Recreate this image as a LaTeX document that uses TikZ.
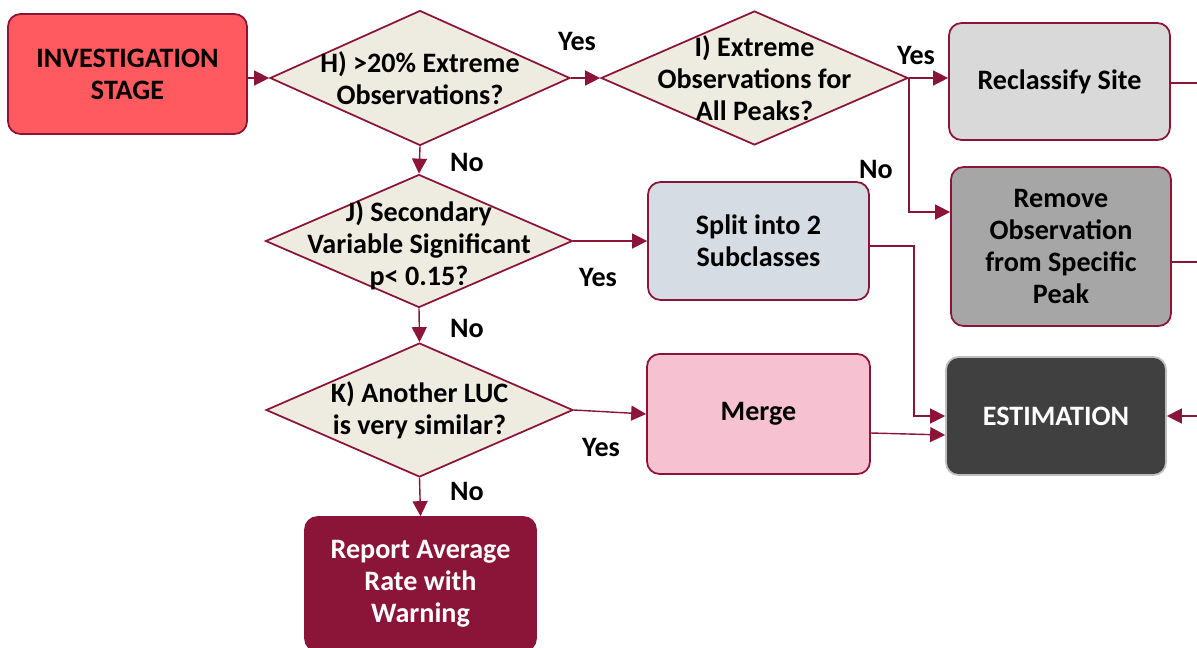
\documentclass[tikz,border=0pt]{standalone}
\usepackage{fontspec}
\setmainfont{Carlito}
\usepackage{xcolor}
\usetikzlibrary{arrows.meta, positioning, shapes.geometric}

\definecolor{wine}{HTML}{8B1538}
\definecolor{stagered}{HTML}{FF5A5F}
\definecolor{beige}{HTML}{EEECE1}
\definecolor{lightgrey}{HTML}{D9D9D9}
\definecolor{midgrey}{HTML}{A6A6A6}
\definecolor{bluegrey}{HTML}{D6DCE4}
\definecolor{pinkish}{HTML}{F6C1D0}
\definecolor{darkgrey}{HTML}{404040}
\definecolor{edgegrey}{HTML}{BFBFBF}

\begin{document}
\begin{tikzpicture}[
      x=0.02cm, y=-0.02cm,
      every node/.style={font=\fontsize{16}{18.2}\selectfont\bfseries},
      procbox/.style={rectangle, rounded corners=0.25cm, draw=wine, line width=1pt, align=center, inner sep=0pt},
      decision/.style={diamond, draw=wine, fill=beige, line width=1pt, inner sep=0pt},
      flow/.style={-{Triangle[length=0.3cm, width=0.3cm]}, draw=wine, line width=0.8pt},
      rim/.style={draw=wine, line width=0.8pt}
    ]
      \useasboundingbox (0,0) rectangle (1197,647);

      % boxes
      \node[procbox, fill=stagered, minimum width=4.78cm, minimum height=2.4cm] (stage) at (127.5,74) {INVESTIGATION\\STAGE};
      \node[procbox, fill=lightgrey, minimum width=4.42cm, minimum height=2.34cm] (reclass) at (1059.5,81.5) {Reclassify Site};
      \node[procbox, fill=midgrey, minimum width=4.4cm, minimum height=3.18cm] (remove) at (1061,246.5) {Remove\\Observation\\from Specific\\Peak};
      \node[procbox, fill=bluegrey, minimum width=4.42cm, minimum height=2.36cm] (split) at (758.5,241) {Split into 2\\Subclasses};
      \node[procbox, fill=pinkish, minimum width=4.46cm, minimum height=2.4cm] (merge) at (758.5,414) {Merge};
      \node[procbox, draw=edgegrey, fill=darkgrey, text=white, minimum width=4.4cm, minimum height=2.36cm] (estim) at (1056,416) {ESTIMATION};
      \node[procbox, fill=wine, text=white, minimum width=4.62cm, minimum height=2.68cm] (report) at (420.5,584) {Report Average\\Rate with\\Warning};

      % decisions
      \node[decision, minimum width=6cm, minimum height=2.7cm, label={[align=center]center:H) >20\% Extreme\\Observations?}] (h) at (420,78) {};
      \node[decision, minimum width=6.14cm, minimum height=2.68cm, label={[align=center]center:I) Extreme\\Observations for\\All Peaks?}] (i) at (754.5,78) {};
      \node[decision, minimum width=6.14cm, minimum height=2.66cm, label={[align=center, yshift=-0.08cm]center:J) Secondary\\Variable Significant\\p< 0.15?}] (j) at (419,241) {};
      \node[decision, minimum width=6.14cm, minimum height=2.68cm, label={[align=center]center:K) Another LUC\\is very similar?}] (k) at (419.5,410) {};

      % answers
      \node (yesh) at (577,41) {Yes};
      \node (noh) at (467,162) {No};
      \node (yesi) at (916,55) {Yes};
      \node (noi) at (876,169) {No};
      \node (yesj) at (598,277) {Yes};
      \node (noj) at (467,328) {No};
      \node (yesk) at (601,447) {Yes};
      \node (nok) at (467,491) {No};

      % free ends at the right border
      \coordinate (rimtop) at (1197,83);
      \coordinate (rimmid) at (1197,262);
      \coordinate (rimlow) at (1197,416);

      \draw[flow] (stage.east |- h.west) -- (h.west);
      \draw[flow] (h.east) -- (i.west);
      \draw[flow] (i.east) -- (reclass.west |- i.east);
      \draw[flow] (i.east) |- ([yshift=0.69cm]remove.west);
      \draw[flow] (h.south) -- (j.north);
      \draw[flow] (j.east) -- (split.west);
      \draw[flow] ([yshift=-0.1cm]split.east) -- ++(44,0) |- (estim.west);
      \draw[flow] ([yshift=-0.38cm]merge.east) -- ([yshift=-0.38cm]estim.west);
      \draw[flow] (j.south) -- (k.north);
      \draw[flow] (k.east) -- (merge.west);
      \draw[flow] (k.south) -- (report.north);

      \draw[rim] (reclass.east |- rimtop) -- (rimtop);
      \draw[rim] (remove.east |- rimmid) -- (rimmid);
      \draw[flow] (rimlow) -- (estim.east);
    \end{tikzpicture}
\end{document}
